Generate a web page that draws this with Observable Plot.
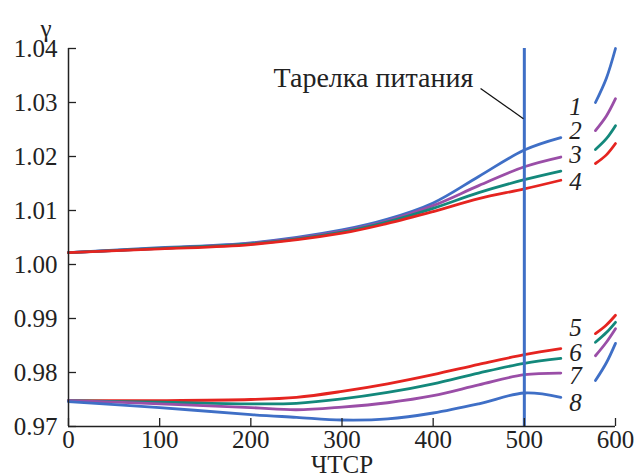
<!DOCTYPE html>
<html>
<head>
<meta charset="utf-8">
<script src="https://cdn.jsdelivr.net/npm/d3@7"></script>
<script src="https://cdn.jsdelivr.net/npm/@observablehq/plot@0.6"></script>
<style>
  html, body { margin: 0; padding: 0; background: #fff; }
  #chart { width: 635px; height: 473px; overflow: hidden; }
</style>
</head>
<body>
<div id="chart"></div>
<script>
// ---- Data ----
const xMain = [0, 100, 200, 300, 350, 400, 450, 500, 540];
const curve1 = [1.0022, 1.0031, 1.0040, 1.0064, 1.0084, 1.0114, 1.0163, 1.0212, 1.0235];
const curve2 = [1.0022, 1.0030, 1.0039, 1.0062, 1.0081, 1.0109, 1.0146, 1.0181, 1.0199];
const curve3 = [1.0022, 1.0030, 1.0038, 1.0060, 1.0079, 1.0104, 1.0133, 1.0157, 1.0173];
const curve4 = [1.0022, 1.0029, 1.0037, 1.0058, 1.0076, 1.0098, 1.0122, 1.0140, 1.0156];

const xLow = [0, 100, 200, 250, 300, 350, 400, 450, 500, 540];
const curve5 = [0.9748, 0.9748, 0.9750, 0.9754, 0.9765, 0.9779, 0.9796, 0.9815, 0.9833, 0.9844];
const curve6 = [0.9748, 0.9745, 0.9742, 0.9743, 0.9751, 0.9763, 0.9779, 0.9799, 0.9817, 0.9826];
const curve7 = [0.9748, 0.9742, 0.9735, 0.9731, 0.9736, 0.9744, 0.9757, 0.9777, 0.9796, 0.9799];
const curve8 = [0.9746, 0.9735, 0.9722, 0.9717, 0.9712, 0.9714, 0.9725, 0.9742, 0.9762, 0.9754];

const xTail = [578, 590, 600];
const tail1 = [1.0300, 1.0345, 1.0400];
const tail2 = [1.0248, 1.0275, 1.0307];
const tail3 = [1.0213, 1.0233, 1.0257];
const tail4 = [1.0187, 1.0203, 1.0224];
const tail5 = [0.9872, 0.9888, 0.9906];
const tail6 = [0.9856, 0.9874, 0.9893];
const tail7 = [0.9831, 0.9856, 0.9881];
const tail8 = [0.9785, 0.9818, 0.9854];

const curveNames = ["1", "2", "3", "4", "5", "6", "7", "8"];
const curveColors = ["#3f6fc6", "#9a4ea7", "#13887b", "#e52420", "#e52420", "#13887b", "#9a4ea7", "#3f6fc6"];
const labelX = 556;
const labelY = [1.0291, 1.0248, 1.0202, 1.0152, 0.9883, 0.9837, 0.9793, 0.9744];

const feedPlate = 500;
const annText = "Тарелка питания";
const annTextX = 444, annTextY = 1.0346;
const annLineX1 = 452, annLineY1 = 1.0326, annLineX2 = 499, annLineY2 = 1.0270;

const xTicks = [0, 100, 200, 300, 400, 500, 600];
const yTicks = [0.97, 0.98, 0.99, 1.00, 1.01, 1.02, 1.03, 1.04];
const xLabel = "ЧТСР";
const xLabelAt = 300;
const yLabel = "γ";

// ---- Build rows ----
const mains = [curve1, curve2, curve3, curve4];
const lows = [curve5, curve6, curve7, curve8];
const tails = [tail1, tail2, tail3, tail4, tail5, tail6, tail7, tail8];
const rows = [];
mains.forEach((vals, i) => vals.forEach((v, j) => rows.push({id: i, seg: i + "a", x: xMain[j], y: v})));
lows.forEach((vals, i) => vals.forEach((v, j) => rows.push({id: i + 4, seg: (i + 4) + "a", x: xLow[j], y: v})));
tails.forEach((vals, i) => vals.forEach((v, j) => rows.push({id: i, seg: i + "b", x: xTail[j], y: v})));
const labels = curveNames.map((n, i) => ({name: n, x: labelX, y: labelY[i], id: i}));

const serif = "Liberation Serif";

const chart = Plot.plot({
  width: 635,
  height: 473,
  marginLeft: 68,
  marginRight: 20,
  marginTop: 48,
  marginBottom: 47,
  style: {fontFamily: serif, fontSize: "25px", color: "#222", background: "#fff", overflow: "visible"},
  x: {domain: [0, 600]},
  y: {domain: [0.97, 1.04]},
  color: {type: "ordinal", domain: d3.range(8), range: curveColors},
  marks: [
    Plot.line(rows, {x: "x", y: "y", z: "seg", stroke: "id", strokeWidth: 2.8, curve: "catmull-rom"}),
    Plot.ruleX([feedPlate], {stroke: "#3f6fc6", strokeWidth: 3}),
    Plot.link([0], {x1: () => annLineX1, y1: () => annLineY1, x2: () => annLineX2, y2: () => annLineY2, stroke: "#111", strokeWidth: 1.3}),
    Plot.text([annText], {x: () => annTextX, y: () => annTextY, text: d => d, textAnchor: "end", fontSize: 28, fontFamily: serif, fill: "#222"}),
    Plot.text(labels, {x: "x", y: "y", text: "name", fontSize: 25, fontStyle: "italic", fontFamily: serif, fill: "#222"}),
    Plot.ruleY([0.97], {stroke: "#222", strokeWidth: 1.5}),
    Plot.ruleX([0], {stroke: "#222", strokeWidth: 1.5}),
    Plot.axisX({ticks: xTicks, tickSize: -8, tickPadding: 12, tickFormat: d3.format("d"), label: null, fontSize: 25, fontFamily: serif, strokeWidth: 1.3}),
    Plot.axisY({ticks: yTicks, tickSize: -8, tickPadding: 19, tickFormat: d3.format(".2f"), label: null, fontSize: 25, fontFamily: serif, strokeWidth: 1.3}),
    Plot.text([yLabel], {frameAnchor: "top-left", dx: -28, dy: -29, text: d => d, fontSize: 25, fontFamily: serif, fill: "#222"}),
    Plot.text([xLabel], {x: () => xLabelAt, frameAnchor: "bottom", dy: 46, text: d => d, fontSize: 25, fontFamily: serif, fill: "#222"})
  ]
});
document.getElementById("chart").appendChild(chart);
</script>
</body>
</html>
